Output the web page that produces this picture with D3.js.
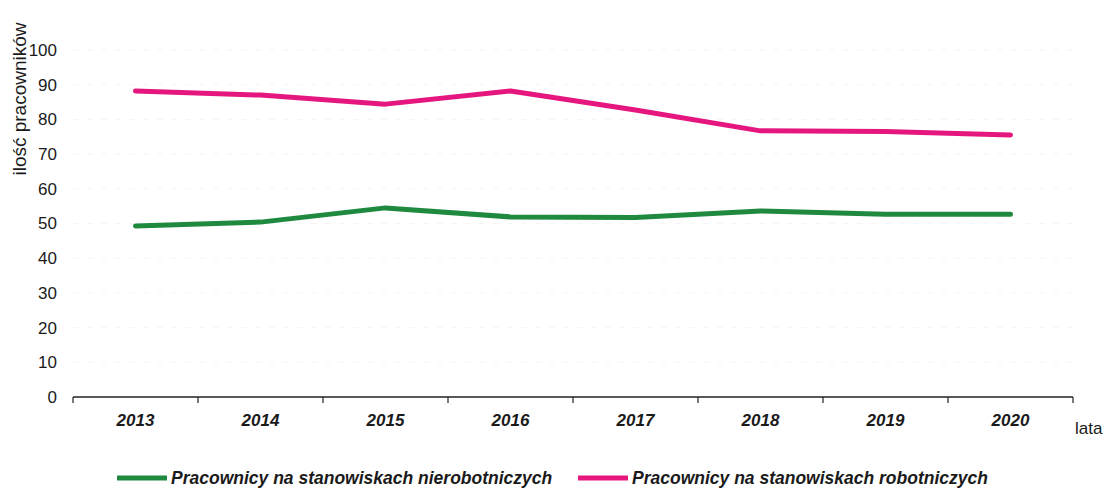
<!DOCTYPE html>
<html>
<head>
<meta charset="utf-8">
<script src="https://cdn.jsdelivr.net/npm/d3@7"></script>
<style>
  body { margin: 0; background: #fff; }
  svg text { font-family: "Liberation Sans", Arial, sans-serif; fill: #1a1a1a; }
</style>
</head>
<body>
<svg id="chart" width="1104" height="488"></svg>
<script>
var years = ['2013', '2014', '2015', '2016', '2017', '2018', '2019', '2020'];
var nonManual = [49.3, 50.4, 54.5, 51.9, 51.7, 53.6, 52.7, 52.7];
var manual = [88.2, 87.0, 84.4, 88.2, 82.7, 76.7, 76.5, 75.5];
var yTicks = [0, 10, 20, 30, 40, 50, 60, 70, 80, 90, 100];
var seriesNames = ['Pracownicy na stanowiskach nierobotniczych', 'Pracownicy na stanowiskach robotniczych'];
var colors = ['#1f8a3f', '#e5177e'];

var svg = d3.select('#chart');

var xs = d3.scaleBand().domain(years).range([73, 1073]);
var ys = d3.scaleLinear().domain([0, 100]).range([397, 50]);

// faint gridlines
svg.append('g').selectAll('line').data(yTicks.slice(1)).enter()
    .append('line')
    .attr('x1', 73).attr('x2', 1073)
    .attr('y1', function (d) { return ys(d); })
    .attr('y2', function (d) { return ys(d); })
    .attr('stroke', '#f5f5f5')
    .attr('stroke-dasharray', '6,8');

// y axis labels (no axis line)
var yAxis = svg.append('g')
    .attr('transform', 'translate(60,0)')
    .call(d3.axisLeft(ys).tickValues(yTicks).tickSize(0).tickPadding(3));
yAxis.select('.domain').remove();
yAxis.selectAll('text')
    .style('font-size', '17px')
    .style('font-family', '"Liberation Sans", Arial, sans-serif')
    .attr('fill', '#1a1a1a');

// x axis with ticks at band boundaries
svg.append('line')
    .attr('x1', 73).attr('x2', 1073)
    .attr('y1', 397).attr('y2', 397)
    .attr('stroke', '#222').attr('stroke-width', 1.5);

var bounds = years.map(function (d) { return xs(d); }).concat([xs.range()[1]]);
svg.append('g').selectAll('line').data(bounds).enter()
    .append('line')
    .attr('x1', function (d) { return d; })
    .attr('x2', function (d) { return d; })
    .attr('y1', 397).attr('y2', 403)
    .attr('stroke', '#222').attr('stroke-width', 1.2);

svg.append('g').selectAll('text').data(years).enter()
    .append('text')
    .attr('x', function (d) { return xs(d) + xs.bandwidth() / 2; })
    .attr('y', 426)
    .attr('text-anchor', 'middle')
    .style('font-size', '17px')
    .style('font-weight', 'bold')
    .style('font-style', 'italic')
    .text(function (d) { return d; });

svg.append('text')
    .attr('x', 1075).attr('y', 434)
    .style('font-size', '17px')
    .text('lata');

svg.append('text')
    .attr('transform', 'translate(26,99) rotate(-90)')
    .attr('text-anchor', 'middle')
    .style('font-size', '19px')
    .text('ilość pracowników');

// lines
var line = d3.line()
    .x(function (d, i) { return xs(years[i]) + xs.bandwidth() / 2; })
    .y(function (d) { return ys(d); });

[nonManual, manual].forEach(function (vals, k) {
    svg.append('path')
        .datum(vals)
        .attr('d', line)
        .attr('fill', 'none')
        .attr('stroke', colors[k])
        .attr('stroke-width', 5)
        .attr('stroke-linecap', 'round')
        .attr('stroke-linejoin', 'round');
});

// legend
var legendX = [117, 578];
seriesNames.forEach(function (name, k) {
    svg.append('line')
        .attr('x1', legendX[k]).attr('x2', legendX[k] + 50)
        .attr('y1', 478).attr('y2', 478)
        .attr('stroke', colors[k]).attr('stroke-width', 5);
    svg.append('text')
        .attr('x', legendX[k] + 54).attr('y', 484)
        .style('font-size', '17.5px')
        .style('font-weight', 'bold')
        .style('font-style', 'italic')
        .text(name);
});
</script>
</body>
</html>
